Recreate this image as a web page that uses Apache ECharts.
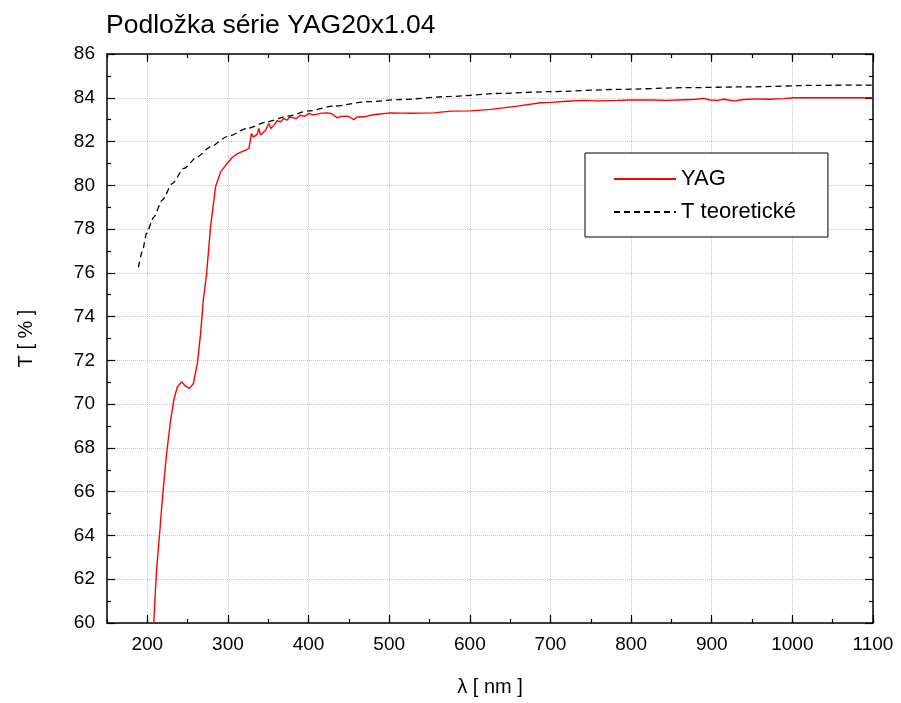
<!DOCTYPE html>
<html>
<head>
<meta charset="utf-8">
<script src="https://cdn.jsdelivr.net/npm/echarts@6/dist/echarts.min.js"></script>
<style>html,body{margin:0;padding:0;background:#fff;}#c{width:901px;height:703px;}</style>
</head>
<body>
<div id="c"></div>
<script>
var titleText = 'Podložka série YAG20x1.04';
var seriesNames = ['YAG', 'T teoretické'];
var xMajorTicks = [200, 300, 400, 500, 600, 700, 800, 900, 1000, 1100];

var yagX = [205, 208, 211.4, 215.5, 219.2, 223.8, 228.8, 232.9, 237.1, 242.4, 247.4, 252.4, 257, 262, 266, 269.4, 273.5, 278.4, 284.6, 290.8, 299, 305.3, 312, 319.7, 326, 328, 329.3, 331.4, 336.3, 338.3, 340.4, 346.7, 350.8, 353, 357, 361, 365.3, 369, 373.6, 376, 379.8, 385, 390, 395, 400.4, 405, 410.8, 416, 423.2, 428, 431.4, 435.6, 440, 448, 452, 456.2, 460, 468.6, 477, 485.2, 501.7, 515, 526.6, 540, 555.5, 576.2, 601, 625.8, 658.9, 687.8, 700.2, 720, 741.6, 760, 783, 800, 824.3, 845, 865.6, 880, 890, 898, 907, 915, 927.7, 940, 955, 970, 989.7, 1002, 1050, 1100];
var yagY = [58.6, 60.0, 62.4, 64.2, 65.9, 67.7, 69.25, 70.2, 70.77, 71.02, 70.82, 70.72, 70.93, 71.84, 73.2, 74.74, 75.96, 78.1, 79.93, 80.6, 81.0, 81.27, 81.45, 81.57, 81.68, 82.14, 82.37, 82.2, 82.33, 82.6, 82.3, 82.52, 82.83, 82.6, 82.75, 82.95, 82.9, 83.05, 82.98, 83.12, 83.1, 83.05, 83.2, 83.15, 83.29, 83.22, 83.25, 83.3, 83.31, 83.28, 83.2, 83.08, 83.15, 83.16, 83.1, 83.0, 83.12, 83.13, 83.2, 83.25, 83.31, 83.3, 83.29, 83.3, 83.31, 83.39, 83.4, 83.47, 83.62, 83.77, 83.79, 83.84, 83.88, 83.86, 83.88, 83.9, 83.9, 83.88, 83.91, 83.93, 83.97, 83.9, 83.88, 83.93, 83.86, 83.92, 83.95, 83.93, 83.96, 84.0, 84.0, 84.0];

var theoX = [189, 194, 199, 208, 218.5, 230.9, 245.3, 261.9, 278.4, 299, 324, 348.8, 373.6, 400.4, 431.4, 472.8, 514, 576, 638, 700, 783, 865.6, 948, 1031, 1100];
var theoY = [76.25, 77.0, 77.8, 78.55, 79.32, 80.08, 80.77, 81.3, 81.76, 82.22, 82.6, 82.9, 83.16, 83.4, 83.62, 83.82, 83.92, 84.06, 84.2, 84.28, 84.38, 84.46, 84.5, 84.57, 84.58];

function pairs(xs, ys) { return xs.map(function (x, i) { return [x, ys[i]]; }); }

var FONT = 'Liberation Sans, Arial, sans-serif';
var axisLineStyle = { color: '#000', width: 1.5 };
var gridLineStyle = { color: '#c8c8c8', type: 'dotted', width: 1 };
function plainNum(v) { return String(v); }

function xAxisBase(pos, major, showLabel) {
  var a = {
    type: 'value', position: pos, min: 150, max: 1100, interval: 50,
    axisLine: { show: major, onZero: false, lineStyle: axisLineStyle },
    axisTick: { show: true, inside: true, length: major ? 8 : 4, lineStyle: { color: '#000', width: 1.2 } },
    axisLabel: { show: false },
    splitLine: { show: false }
  };
  if (major) {
    a.axisTick.customValues = xMajorTicks;
    a.axisLabel = { show: showLabel, customValues: xMajorTicks, formatter: plainNum, fontSize: 19, fontFamily: FONT, color: '#000', margin: 12 };
  }
  return a;
}

var xA0 = xAxisBase('bottom', true, true);
xA0.splitLine = { show: true, lineStyle: gridLineStyle };
xA0.name = 'λ [ nm ]';
xA0.nameLocation = 'middle';
xA0.nameGap = 54;
xA0.nameTextStyle = { fontSize: 20, fontFamily: FONT, color: '#000' };

function yAxisBase(pos, showLabel) {
  return {
    type: 'value', position: pos, min: 60, max: 86, interval: 2,
    axisLine: { show: true, onZero: false, lineStyle: axisLineStyle },
    axisTick: { show: true, inside: true, length: 8, lineStyle: { color: '#000', width: 1.2 } },
    minorTick: { show: true, splitNumber: 2, length: 4, lineStyle: { color: '#000', width: 1.2 } },
    axisLabel: { show: showLabel, formatter: plainNum, fontSize: 19, fontFamily: FONT, color: '#000', margin: 12 },
    splitLine: { show: showLabel, lineStyle: gridLineStyle }
  };
}
var yA0 = yAxisBase('left', true);
yA0.name = 'T [ % ]';
yA0.nameLocation = 'middle';
yA0.nameGap = 71;
yA0.nameRotate = 90;
yA0.nameTextStyle = { fontSize: 20, fontFamily: FONT, color: '#000' };

var option = {
  animation: false,
  backgroundColor: '#fff',
  title: {
    text: titleText, left: 101, top: 7,
    textStyle: { fontSize: 26.5, fontWeight: 'normal', fontFamily: FONT, color: '#000' }
  },
  grid: { left: 107, right: 28, top: 54, bottom: 80 },
  legend: {
    orient: 'vertical', left: 585, top: 153,
    padding: [15, 32, 14, 28],
    itemWidth: 62, itemHeight: 14, itemGap: 11,
    borderColor: '#000', borderWidth: 1, backgroundColor: '#fff',
    itemStyle: { color: 'rgba(0,0,0,0)', borderColor: 'rgba(0,0,0,0)', borderWidth: 0 },
    textStyle: { fontSize: 22, fontFamily: FONT, color: '#000' },
    data: seriesNames
  },
  xAxis: [xA0, xAxisBase('bottom', false, false), xAxisBase('top', true, false), xAxisBase('top', false, false)],
  yAxis: [yA0, yAxisBase('right', false)],
  series: [
    {
      name: seriesNames[0], type: 'line', xAxisIndex: 0, yAxisIndex: 0,
      data: pairs(yagX, yagY), symbol: 'none', clip: true,
      lineStyle: { color: '#ff0000', width: 1.4 }, itemStyle: { color: '#ff0000' }
    },
    {
      name: seriesNames[1], type: 'line', xAxisIndex: 0, yAxisIndex: 0,
      data: pairs(theoX, theoY), symbol: 'none', smooth: 0.25, smoothMonotone: 'x',
      lineStyle: { color: '#000', width: 1.3, type: [6, 4] }, itemStyle: { color: '#000' }
    }
  ]
};
var chart = echarts.init(document.getElementById('c'), null, { renderer: 'canvas' });
chart.setOption(option);
</script>
</body>
</html>
